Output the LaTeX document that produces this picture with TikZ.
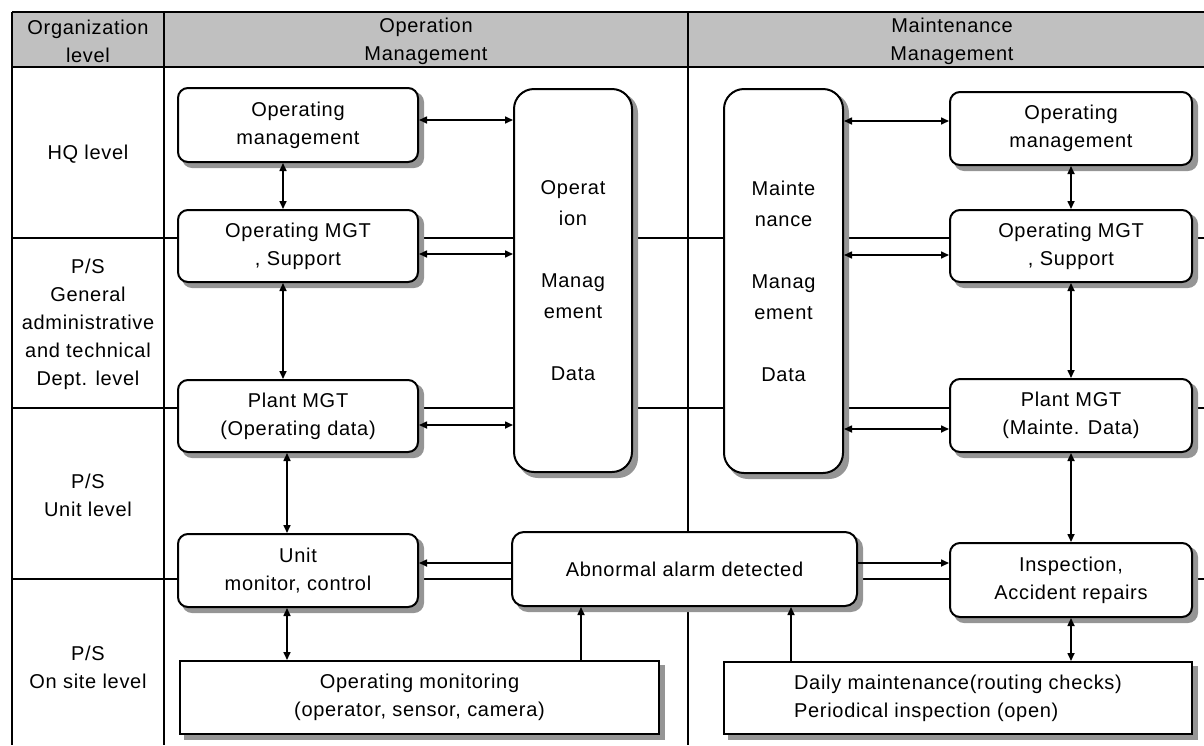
\documentclass[tikz,border=0pt]{standalone}
\usepackage{fontspec}
\setmainfont{Liberation Sans}[LetterSpace=3.5]
\usetikzlibrary{arrows.meta}
\definecolor{hdr}{HTML}{C0C0C0}
\definecolor{shadowgray}{HTML}{959595}
\pgfdeclarelayer{gridlayer}
\pgfdeclarelayer{shadowlayer}
\pgfsetlayers{gridlayer,shadowlayer,main}
% gray offset shadow under a named box
\newcommand\castshadow[2]{\fill[shadowgray, rounded corners=#2] ([shift={(5pt,-5pt)}]#1.south west) rectangle ([shift={(5pt,-5pt)}]#1.north east);}
\begin{document}
\begin{tikzpicture}[x=1pt,y=-1pt,
  tbl/.style={line width=1.8pt},
  txt/.style={align=center, font=\fontsize{20}{28}\selectfont},
  rbox/.style={draw, line width=2pt, fill=white, rounded corners=10pt, inner sep=0pt, txt},
  sbox/.style={draw, line width=2pt, fill=white, inner sep=0pt, txt},
  dbox/.style={rbox, rounded corners=20pt, font=\fontsize{20}{31}\selectfont},
  tip/.tip={Triangle[length=8pt,width=7pt]},
  one/.style={line width=1.6pt, -tip},
  two/.style={line width=1.6pt, tip-tip}
]
\useasboundingbox (0,0) rectangle (1204,745);

% table frame and header
\begin{pgfonlayer}{gridlayer}
\fill[hdr] (12,12) rectangle (1216,67);
\draw[tbl] (12,12) -- (1216,12);
\draw[tbl] (12,67) -- (1216,67);
\draw[tbl] (12,12) -- (12,745);
\draw[tbl] (164,12) -- (164,745);
\draw[tbl] (688,12) -- (688,745);
\draw[tbl] (12,238) -- (1216,238);
\draw[tbl] (12,408) -- (1216,408);
\draw[tbl] (12,579) -- (1216,579);
\end{pgfonlayer}

\node[txt] (hOrg) at (88,41) {Organization\\level};
\node[txt] (hOp) at (426,41) {Operation\\Management};
\node[txt] (hMt) at (952,41) {Maintenance\\Management};

% level labels
\node[txt] (lHQ) at (88,154) {HQ level};
\node[txt] (lPS) at (88,324) {P/S\\General\\administrative\\and technical\\Dept. level};
\node[txt] (lUnit) at (88,495) {P/S\\Unit level};
\node[txt] (lSite) at (88,667) {P/S\\On site level};

% operation side
\node[rbox, minimum width=240pt, minimum height=74pt] (om1) at (298,125) {Operating\\management};
\node[rbox, minimum width=240pt, minimum height=72pt] (os1) at (298,246) {Operating MGT\\, Support};
\node[rbox, minimum width=240pt, minimum height=72pt] (pm1) at (298,416) {Plant MGT\\(Operating data)};
\node[rbox, minimum width=240pt, minimum height=73pt] (un1) at (298,570.5) {Unit\\monitor, control};
\node[sbox, minimum width=479pt, minimum height=73pt] (mon1) at (419.5,697.5) {Operating monitoring\\(operator, sensor, camera)};
\node[dbox, minimum width=118pt, minimum height=383pt] (od) at (573,280.5) {Operat\\ion\\[31pt]Manag\\ement\\[31pt]Data};

% maintenance side
\node[dbox, minimum width=119pt, minimum height=384pt] (md) at (783.5,281) {Mainte\\nance\\[31pt]Manag\\ement\\[31pt]Data};
\node[rbox, minimum width=242pt, minimum height=73pt] (om2) at (1071,128.5) {Operating\\management};
\node[rbox, minimum width=242pt, minimum height=72pt] (os2) at (1071,246) {Operating MGT\\, Support};
\node[rbox, minimum width=242pt, minimum height=73pt] (pm2) at (1071,415.5) {Plant MGT\\(Mainte. Data)};
\node[rbox, minimum width=242pt, minimum height=74pt] (in2) at (1071,580) {Inspection,\\Accident repairs};
\node[sbox, minimum width=468pt, minimum height=72pt] (dm2) at (958,698) {\begin{tabular}{@{}l@{}}Daily maintenance(routing checks)\\Periodical inspection (open)\end{tabular}};

% shared alarm box
\node[rbox, rounded corners=12pt, minimum width=345pt, minimum height=74pt] (al) at (684.5,569) {Abnormal alarm detected};

% box shadows
\begin{pgfonlayer}{shadowlayer}
\castshadow{om1}{10pt}
\castshadow{os1}{10pt}
\castshadow{pm1}{10pt}
\castshadow{un1}{10pt}
\castshadow{mon1}{0pt}
\castshadow{od}{20pt}
\castshadow{md}{20pt}
\castshadow{om2}{10pt}
\castshadow{os2}{10pt}
\castshadow{pm2}{10pt}
\castshadow{in2}{10pt}
\castshadow{dm2}{0pt}
\castshadow{al}{12pt}
\end{pgfonlayer}

% guide coordinates for connector positions
\coordinate (xA) at (283,0);
\coordinate (xB) at (287,0);
\coordinate (xC) at (581,0);
\coordinate (xD) at (791,0);
\coordinate (xE) at (1071,0);
\coordinate (yA) at (0,120);
\coordinate (yB) at (0,254);
\coordinate (yC) at (0,425);
\coordinate (yD) at (0,563);
\coordinate (yE) at (0,121);
\coordinate (yF) at (0,255);
\coordinate (yG) at (0,429);

% operation connectors
\draw[two] (om1.south -| xA) -- (os1.north -| xA);
\draw[two] (os1.south -| xA) -- (pm1.north -| xA);
\draw[two] (pm1.south -| xB) -- (un1.north -| xB);
\draw[two] (un1.south -| xB) -- (mon1.north -| xB);
\draw[two] (om1.east |- yA) -- (od.west |- yA);
\draw[two] (os1.east |- yB) -- (od.west |- yB);
\draw[two] (pm1.east |- yC) -- (od.west |- yC);
\draw[one] (al.west |- yD) -- (un1.east |- yD);
\draw[one] (mon1.north -| xC) -- (al.south -| xC);

% maintenance connectors
\draw[one] (dm2.north -| xD) -- (al.south -| xD);
\draw[one] (al.east |- yD) -- (in2.west |- yD);
\draw[two] (md.east |- yE) -- (om2.west |- yE);
\draw[two] (md.east |- yF) -- (os2.west |- yF);
\draw[two] (md.east |- yG) -- (pm2.west |- yG);
\draw[two] (om2.south -| xE) -- (os2.north -| xE);
\draw[two] (os2.south -| xE) -- (pm2.north -| xE);
\draw[two] (pm2.south -| xE) -- (in2.north -| xE);
\draw[two] (in2.south -| xE) -- (dm2.north -| xE);
\end{tikzpicture}
\end{document}
